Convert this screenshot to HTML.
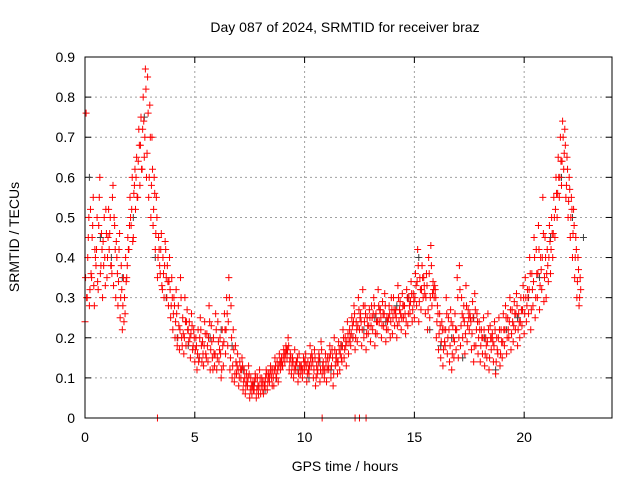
<!DOCTYPE html>
<html><head><meta charset="utf-8"><style>
html,body{margin:0;padding:0;background:#fff;}
svg{display:block;font-family:"Liberation Sans",sans-serif;}
</style></head><body>
<svg id="chart" width="640" height="480" viewBox="0 0 640 480" xmlns="http://www.w3.org/2000/svg">
<text x="345" y="32" font-size="14" text-anchor="middle">Day 087 of 2024, SRMTID for receiver braz</text>
<text transform="translate(19,237) rotate(-90)" font-size="14" text-anchor="middle">SRMTID / TECUs</text>
<text x="345" y="471" font-size="14" text-anchor="middle">GPS time / hours</text>
<g id="grid"></g>
<g id="ticks"></g>
<g id="marks"></g>
<rect x="85" y="57" width="527" height="361" fill="none" stroke="#000" stroke-width="1"/>
</svg>
<script>
const xTicks=[0,5,10,15,20];
const yTicks=[0,0.1,0.2,0.3,0.4,0.5,0.6,0.7,0.8,0.9];
const yTickLabels=["0","0.1","0.2","0.3","0.4","0.5","0.6","0.7","0.8","0.9"];
const seriesStep=0.1;
const seriesA=[.24,.30,.28,.35,.33,.38,.32,.36,.30,.40,
.35,.42,.38,.33,.30,.28,.25,.22,.30,.35,
.42,.48,.45,.52,.55,.58,.62,.65,.60,.55,
.50,.48,.42,.35,.38,.33,.30,.35,.28,.25,
.22,.20,.18,.17,.20,.16,.18,.22,.15,.17,
.14,.12,.15,.18,.13,.16,.14,.12,.15,.13,
.12,.14,.10,.13,.16,.18,.12,.10,.09,.11,
.08,.10,.07,.06,.08,.05,.06,.07,.05,.06,
.06,.07,.08,.07,.09,.10,.08,.11,.09,.12,
.13,.14,.15,.12,.11,.10,.12,.09,.11,.10,
.12,.09,.11,.13,.10,.08,.12,.09,.11,.10,
.09,.12,.10,.08,.13,.11,.12,.14,.15,.13,
.16,.18,.20,.17,.19,.22,.18,.20,.17,.21,
.19,.22,.18,.21,.24,.20,.23,.19,.22,.20,
.21,.23,.20,.24,.22,.25,.21,.23,.26,.24,
.25,.28,.24,.27,.30,.26,.22,.25,.28,.30,
.20,.17,.15,.13,.18,.16,.14,.12,.15,.17,
.15,.18,.20,.16,.19,.22,.17,.14,.18,.16,
.14,.16,.13,.15,.12,.17,.14,.11,.16,.13,
.15,.18,.16,.20,.17,.19,.22,.18,.20,.23,
.21,.24,.26,.22,.28,.25,.30,.27,.32,.29,
.30,.34,.36,.40,.45,.50,.55,.58,.62,.55,
.50,.45,.40,.35,.30,.28];
const seriesB=[.76,.45,.52,.48,.42,.50,.55,.46,.38,.52,
.45,.50,.55,.48,.40,.42,.38,.35,.40,.45,
.55,.60,.58,.65,.72,.75,.80,.87,.85,.78,
.70,.60,.55,.45,.42,.40,.44,.38,.40,.35,
.30,.32,.28,.35,.25,.30,.27,.24,.26,.22,
.20,.22,.25,.19,.24,.21,.28,.23,.20,.26,
.24,.20,.22,.26,.30,.35,.28,.22,.18,.16,
.14,.15,.12,.11,.13,.10,.09,.11,.10,.12,
.10,.09,.12,.11,.13,.12,.15,.14,.16,.15,
.17,.18,.20,.16,.15,.17,.14,.16,.13,.15,
.16,.14,.18,.15,.17,.13,.16,.19,.14,.16,
.15,.18,.17,.20,.16,.19,.18,.22,.20,.24,
.22,.25,.28,.24,.30,.26,.32,.28,.25,.27,
.28,.30,.26,.32,.27,.29,.31,.25,.28,.30,
.30,.27,.33,.29,.31,.28,.32,.30,.34,.31,
.36,.42,.35,.38,.33,.36,.40,.43,.34,.32,
.28,.26,.24,.22,.30,.25,.27,.23,.26,.35,
.38,.30,.28,.33,.27,.25,.29,.31,.26,.24,
.22,.25,.20,.26,.23,.21,.24,.20,.25,.22,
.26,.28,.25,.30,.27,.29,.31,.26,.30,.33,
.35,.32,.40,.36,.45,.42,.48,.40,.55,.45,
.42,.48,.50,.55,.60,.65,.70,.74,.72,.65,
.60,.55,.52,.45,.40,.35];
const seriesC=[.35,.40,.32,.45,.28,.42,.48,.38,.44,.33,
.40,.46,.36,.50,.44,.34,.30,.28,.26,.38,
.48,.52,.56,.60,.64,.68,.72,.70,.66,.60,
.58,.52,.46,.40,.36,.32,.38,.30,.34,.28,
.26,.24,.20,.22,.18,.20,.24,.19,.21,.18,
.17,.16,.20,.14,.18,.15,.20,.17,.12,.16,
.15,.17,.12,.19,.22,.24,.15,.13,.11,.13,
.10,.12,.09,.08,.10,.07,.08,.09,.07,.08,
.08,.06,.10,.09,.11,.08,.12,.10,.13,.14,
.15,.16,.17,.14,.13,.12,.14,.11,.13,.12,
.14,.11,.13,.16,.12,.10,.14,.12,.13,.12,
.12,.15,.13,.11,.15,.14,.16,.18,.17,.19,
.19,.21,.24,.20,.23,.25,.22,.24,.21,.23,
.23,.26,.21,.24,.27,.23,.26,.22,.25,.24,
.25,.26,.23,.27,.25,.28,.24,.26,.29,.27,
.30,.34,.29,.32,.35,.30,.27,.30,.31,.33,
.24,.21,.19,.17,.22,.20,.18,.16,.19,.22,
.20,.23,.25,.21,.23,.26,.21,.18,.22,.20,
.18,.20,.16,.19,.15,.20,.18,.14,.20,.16,
.19,.22,.20,.24,.21,.23,.26,.22,.24,.27,
.26,.28,.32,.27,.34,.30,.36,.33,.40,.35,
.36,.40,.42,.46,.52,.56,.60,.64,.66,.58,
.54,.50,.46,.40,.34,.30];
const seriesD=[.30,.50,.36,.55,.40,.34,.60,.42,.50,.46,
.52,.38,.58,.42,.36,.46,.32,.24,.34,.42,
.50,.44,.62,.55,.68,.62,.74,.82,.76,.70,
.62,.56,.50,.42,.46,.36,.42,.34,.32,.30,
.28,.26,.23,.30,.21,.24,.22,.20,.23,.20,
.18,.14,.22,.16,.21,.18,.24,.19,.16,.22,
.19,.16,.18,.22,.26,.30,.20,.17,.14,.12,
.12,.13,.10,.09,.11,.08,.07,.10,.08,.10,
.09,.08,.11,.10,.12,.10,.13,.12,.14,.13,
.16,.17,.18,.15,.14,.13,.15,.13,.12,.14,
.13,.12,.15,.14,.15,.11,.15,.17,.12,.14,
.13,.16,.15,.17,.14,.17,.15,.20,.18,.21,
.20,.23,.26,.22,.27,.24,.28,.26,.23,.25,
.25,.28,.24,.28,.25,.26,.28,.24,.26,.27,
.27,.25,.30,.26,.28,.26,.30,.28,.31,.29,
.33,.38,.32,.35,.31,.33,.36,.38,.32,.30,
.26,.23,.22,.19,.26,.22,.24,.20,.22,.30,
.32,.26,.24,.28,.25,.24,.25,.27,.24,.22,
.20,.22,.18,.22,.20,.19,.22,.17,.22,.19,
.22,.25,.22,.27,.24,.26,.28,.24,.27,.30,
.30,.30,.36,.32,.40,.36,.42,.37,.46,.40,
.38,.44,.46,.50,.56,.60,.64,.70,.68,.62,
.57,.52,.48,.42,.37,.32];
const grayStep=0.5;
const grayValues=[.6,.45,.4,.35,.5,.75,.4,.3,.2,.18,.15,.2,.22,.18,.12,.08,.07,.1,.16,.12,.1,.14,.12,.18,.2,.22,.25,.24,.28,.3,.4,.22,.18,.2,.15,.25,.2,.12,.22,.25,.3,.35,.45,.6,.5,.45];
const zeroTimes=[3.3,10.8,12.3,12.5,12.8];

const NS="http://www.w3.org/2000/svg";
const X0=85,X1=612,Y0=418,Y1=57,XMAX=24,YMAX=0.9;
function xs(v){return X0+(X1-X0)*v/XMAX;}
function ys(v){return Y0-(Y0-Y1)*v/YMAX;}
function mk(tag,attrs,parent){const e=document.createElementNS(NS,tag);for(const k in attrs)e.setAttribute(k,attrs[k]);parent.appendChild(e);return e;}
const grid=document.getElementById('grid'),ticks=document.getElementById('ticks'),marks=document.getElementById('marks');
yTicks.forEach((v,i)=>{
  const y=ys(v);
  if(i>0&&i<yTicks.length-1){const g=mk('line',{x1:X0,x2:X1,y1:y,y2:y,stroke:'#a0a0a0','stroke-dasharray':'2,3'},grid);
  
  }
  const t=mk('text',{x:X0-10,y:y+5,'font-size':14,'text-anchor':'end'},ticks);t.textContent=yTickLabels[i];
  
  
  mk('line',{x1:X0,x2:X0+6,y1:y,y2:y,stroke:'#000'},ticks);
  mk('line',{x1:X1,x2:X1-6,y1:y,y2:y,stroke:'#000'},ticks);
});
xTicks.forEach((v,i)=>{
  const x=xs(v);
  if(i>0){const g=mk('line',{x1:x,x2:x,y1:Y0,y2:Y1,stroke:'#a0a0a0','stroke-dasharray':'2,3'},grid);
  
  }
  const t=mk('text',{x:x,y:Y0+24,'font-size':14,'text-anchor':'middle'},ticks);t.textContent=String(v);
  
  
  mk('line',{x1:x,x2:x,y1:Y0,y2:Y0-6,stroke:'#000'},ticks);
  mk('line',{x1:x,x2:x,y1:Y1,y2:Y1+6,stroke:'#000'},ticks);
});
function plus(t,v,color){
  const x=xs(t),y=ys(v);
  const p=mk('path',{d:`M${x-3.5} ${y}h7M${x} ${y-3.5}v7`,stroke:color,'stroke-width':1,fill:'none'},marks);
  
  
}
grayValues.forEach((v,i)=>plus(i*grayStep+0.2,v,'#404040'));
seriesA.forEach((v,i)=>plus(i*seriesStep,v,'#ff0000'));
seriesC.forEach((v,i)=>plus(i*seriesStep+0.025,v,'#ff0000'));
seriesB.forEach((v,i)=>plus(i*seriesStep+0.05,v,'#ff0000'));
seriesD.forEach((v,i)=>plus(i*seriesStep+0.075,v,'#ff0000'));
zeroTimes.forEach(t=>plus(t,0,'#ff0000'));
</script>
</body></html>
